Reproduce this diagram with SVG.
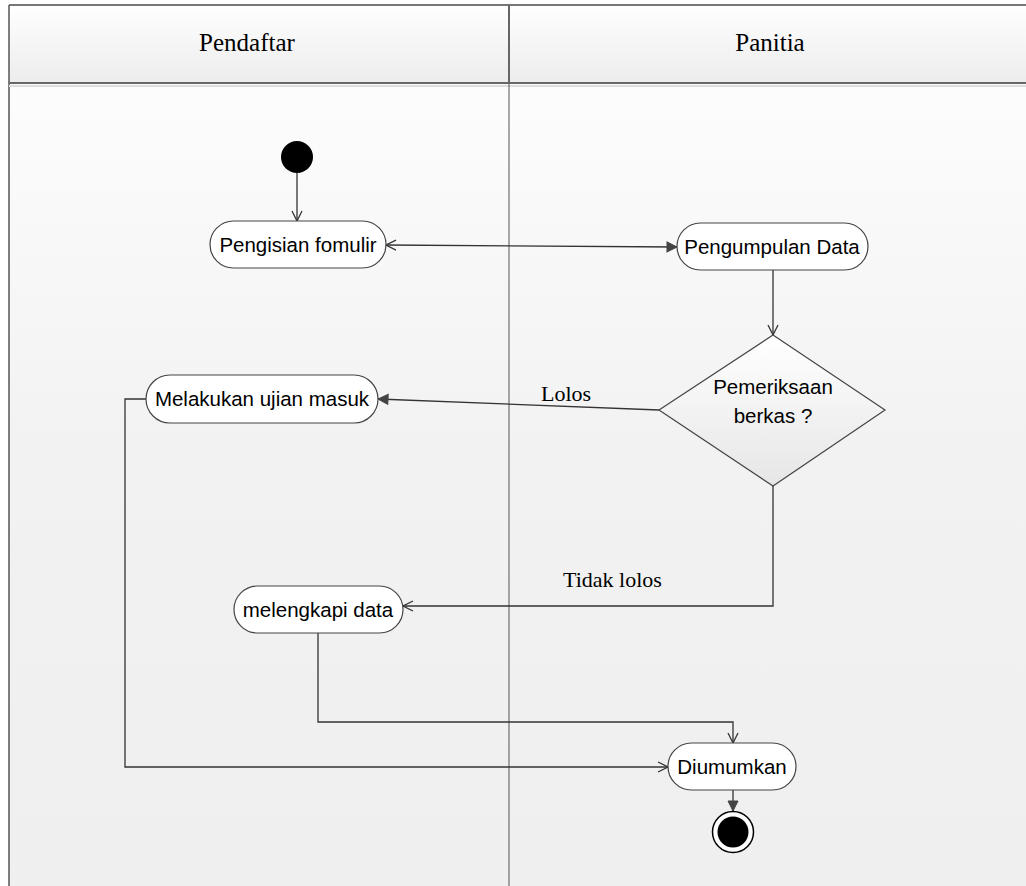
<svg xmlns="http://www.w3.org/2000/svg" width="1026" height="886" viewBox="0 0 1026 886">
<defs>
<linearGradient id="hdr" x1="0" y1="0" x2="0" y2="1">
<stop offset="0" stop-color="#ffffff"/>
<stop offset="1" stop-color="#ececec"/>
</linearGradient>
<linearGradient id="body" x1="0" y1="0" x2="0" y2="1">
<stop offset="0" stop-color="#ffffff"/>
<stop offset="0.5" stop-color="#f2f2f2"/>
<stop offset="1" stop-color="#efefef"/>
</linearGradient>
<linearGradient id="dia" x1="0" y1="0" x2="0" y2="1">
<stop offset="0" stop-color="#ffffff"/>
<stop offset="1" stop-color="#e6e6e6"/>
</linearGradient>
<marker id="open" viewBox="0 0 12 12" refX="11" refY="6" markerWidth="12" markerHeight="12" markerUnits="userSpaceOnUse" orient="auto-start-reverse">
<path d="M1,1 L11,6 L1,11" fill="none" stroke="#333" stroke-width="1.3"/>
</marker>
<marker id="fill" viewBox="0 0 12 12" refX="11" refY="6" markerWidth="12" markerHeight="12" markerUnits="userSpaceOnUse" orient="auto">
<path d="M1,1 L11,6 L1,11 Z" fill="#444" stroke="#444" stroke-width="1"/>
</marker>
<style>
.lane{font-family:"Liberation Serif","Times New Roman",serif;font-size:25px;fill:#000;text-anchor:middle}
.lbl{font-family:"Liberation Serif","Times New Roman",serif;font-size:22px;fill:#000}
.act{fill:#ffffff;stroke:#444;stroke-width:1.2}
.txt{font-family:"Liberation Sans",Arial,sans-serif;font-size:20.5px;fill:#000;text-anchor:middle}
.con{fill:none;stroke:#333;stroke-width:1.3}
</style>
</defs>
<g id="swimlanes">
<rect x="9" y="5" width="1017" height="881" fill="url(#body)"/>
<rect x="9" y="5" width="1017" height="78" fill="url(#hdr)"/>
<line x1="9" y1="5" x2="1026" y2="5" stroke="#777" stroke-width="2"/>
<line x1="9" y1="5" x2="9" y2="886" stroke="#555" stroke-width="1.5"/>
<line x1="9" y1="83" x2="1026" y2="83" stroke="#666" stroke-width="2"/>
<line x1="9" y1="86" x2="1026" y2="86" stroke="#ddd" stroke-width="2"/>
<line x1="509" y1="5" x2="509" y2="83" stroke="#666" stroke-width="2"/>
<line x1="509" y1="83" x2="509" y2="886" stroke="#555" stroke-width="1"/>
<text class="lane" x="247" y="51">Pendaftar</text>
<text class="lane" x="770" y="51">Panitia</text>
</g>
<g id="connectors">
<line class="con" x1="297" y1="173" x2="297" y2="221" marker-end="url(#open)"/>
<line class="con" x1="386" y1="245" x2="677" y2="247" marker-start="url(#open)" marker-end="url(#fill)"/>
<line class="con" x1="773" y1="270" x2="773" y2="335" marker-end="url(#open)"/>
<line class="con" x1="659" y1="410" x2="378" y2="399" marker-end="url(#fill)"/>
<polyline class="con" points="773,486 773,606 403,606" marker-end="url(#open)"/>
<polyline class="con" points="146,399 125,399 125,767 668,767" marker-end="url(#open)"/>
<polyline class="con" points="318,633 318,722 733,722 733,743" marker-end="url(#open)"/>
<line class="con" x1="733" y1="790" x2="733" y2="811" marker-end="url(#fill)"/>
<text class="lbl" x="541" y="401">Lolos</text>
<text class="lbl" x="563" y="587">Tidak lolos</text>
</g>
<g id="start">
<circle cx="297" cy="157" r="16" fill="#000"/>
</g>
<g id="pengisian">
<rect class="act" x="210" y="221" width="176" height="47" rx="23.5"/>
<text class="txt" x="298" y="252">Pengisian fomulir</text>
</g>
<g id="pengumpulan">
<rect class="act" x="677" y="223" width="191" height="47" rx="23.5"/>
<text class="txt" x="772" y="254">Pengumpulan Data</text>
</g>
<g id="pemeriksaan">
<polygon points="773,335 885,410 773,486 659,410" fill="url(#dia)" stroke="#444" stroke-width="1.2"/>
<text class="txt" x="773" y="394">Pemeriksaan</text>
<text class="txt" x="773" y="423">berkas ?</text>
</g>
<g id="ujian">
<rect class="act" x="146" y="375" width="232" height="48" rx="24"/>
<text class="txt" x="262" y="406">Melakukan ujian masuk</text>
</g>
<g id="melengkapi">
<rect class="act" x="234" y="586" width="169" height="47" rx="23.5"/>
<text class="txt" x="318" y="617">melengkapi data</text>
</g>
<g id="diumumkan">
<rect class="act" x="668" y="743" width="128" height="47" rx="23.5"/>
<text class="txt" x="732" y="774">Diumumkan</text>
</g>
<g id="end">
<circle cx="733" cy="832" r="20.5" fill="#fff" stroke="#000" stroke-width="1.5"/>
<circle cx="733" cy="832" r="15.5" fill="#000"/>
</g>
</svg>
